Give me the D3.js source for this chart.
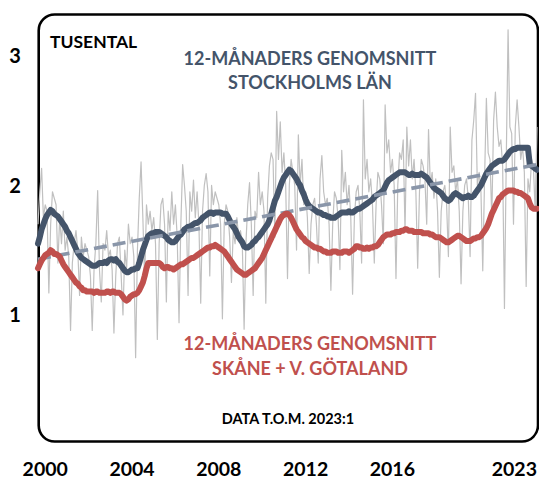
<!DOCTYPE html>
<html><head><meta charset="utf-8">
<script src="https://cdn.jsdelivr.net/npm/d3@7"></script>
<style>
html,body{margin:0;padding:0;background:#fff;}
svg{display:block;font-family:Lato,"Open Sans",sans-serif;font-weight:700;}
</style></head>
<body><svg id="c" width="539" height="482"></svg>
<script>
// ---- DATA (monthly, 2000:1 .. 2023:1) ----
const startYear = 2000;
const stockholmMonthly = [
1.70,1.95,2.13,1.75,1.85,1.80,1.17,1.70,1.95,1.90,1.85,1.40,
1.75,1.55,1.80,1.50,1.60,1.45,0.88,1.40,1.55,1.65,1.50,1.15,
1.60,1.45,1.55,1.50,1.45,1.30,0.88,1.35,1.55,1.96,1.35,1.10,
1.55,1.50,1.65,1.45,1.50,1.35,0.86,1.30,1.55,1.60,1.30,1.00,
1.50,1.35,1.70,1.55,1.60,1.45,0.67,1.50,1.90,2.18,1.75,1.25,
1.85,1.70,1.80,1.65,1.75,1.55,0.81,1.55,1.85,1.90,1.70,1.10,
1.80,1.65,1.95,1.70,1.85,1.60,0.94,1.70,2.16,2.00,1.80,1.15,
1.95,1.80,2.04,1.75,1.95,1.70,1.09,1.80,2.00,2.09,1.95,1.30,
2.00,1.85,1.95,1.90,1.85,1.70,0.97,1.70,1.85,1.80,1.60,1.25,
1.65,1.55,1.75,1.60,1.65,1.55,0.89,1.55,1.85,2.02,1.70,1.15,
1.80,1.75,2.10,1.85,1.95,1.80,1.09,1.90,2.15,2.25,2.20,1.60,
2.57,2.20,2.49,2.10,2.25,2.00,1.28,2.00,2.20,2.10,2.00,1.50,
2.39,2.00,2.20,1.85,1.95,1.75,1.32,1.70,1.85,1.90,1.70,1.40,
2.05,2.23,1.95,1.85,1.90,1.70,1.19,1.70,1.95,1.90,1.75,1.35,
2.27,1.95,2.10,1.85,2.00,1.75,1.16,1.75,1.95,2.00,1.80,1.40,
2.66,2.05,2.20,1.95,2.05,1.85,1.40,1.85,2.10,2.05,1.85,1.55,
2.62,2.25,2.35,2.10,2.20,2.00,1.28,2.00,2.25,2.20,2.35,1.65,
2.45,2.15,2.35,2.05,2.20,1.95,1.36,1.95,2.20,2.15,2.05,1.70,
2.43,2.00,2.10,1.90,2.05,1.80,1.29,1.80,1.95,2.00,1.85,1.45,
2.45,2.10,2.15,1.95,2.05,1.80,1.24,1.80,2.00,2.05,1.90,1.45,
2.35,2.50,2.71,2.00,2.10,1.95,1.34,2.05,2.67,2.25,2.20,1.75,
2.50,2.72,2.45,2.30,2.35,2.15,1.05,2.20,3.20,2.45,2.40,1.70,
2.45,2.66,2.45,2.20,2.30,2.10,1.22,2.05,1.95,2.20,2.15,1.80,
2.45];
const stockholmAvg12 = [
1.55,1.60,1.66,1.70,1.74,1.77,1.79,1.81,1.80,1.78,1.77,1.76,
1.74,1.72,1.70,1.68,1.65,1.63,1.60,1.57,1.54,1.51,1.48,1.46,
1.44,1.43,1.42,1.41,1.40,1.39,1.38,1.38,1.38,1.39,1.40,1.40,
1.40,1.41,1.40,1.42,1.43,1.43,1.42,1.43,1.41,1.40,1.38,1.36,
1.34,1.33,1.33,1.34,1.35,1.35,1.36,1.36,1.40,1.45,1.50,1.54,
1.58,1.61,1.62,1.63,1.63,1.64,1.64,1.64,1.63,1.62,1.61,1.60,
1.58,1.57,1.56,1.56,1.57,1.59,1.61,1.62,1.64,1.66,1.67,1.68,
1.68,1.69,1.70,1.71,1.71,1.72,1.73,1.75,1.76,1.77,1.78,1.79,
1.79,1.78,1.79,1.79,1.79,1.79,1.78,1.78,1.78,1.76,1.73,1.70,
1.68,1.66,1.63,1.60,1.58,1.56,1.53,1.52,1.52,1.53,1.54,1.56,
1.57,1.59,1.60,1.62,1.64,1.66,1.68,1.70,1.73,1.78,1.83,1.88,
1.91,1.95,1.99,2.03,2.06,2.08,2.10,2.12,2.11,2.09,2.07,2.05,
2.02,2.00,1.96,1.93,1.89,1.86,1.84,1.83,1.82,1.81,1.80,1.79,
1.79,1.78,1.77,1.77,1.76,1.76,1.75,1.75,1.75,1.76,1.77,1.78,
1.79,1.79,1.79,1.79,1.80,1.79,1.79,1.80,1.81,1.82,1.82,1.83,
1.84,1.85,1.86,1.87,1.88,1.89,1.91,1.92,1.93,1.94,1.95,1.96,
1.99,2.02,2.04,2.05,2.06,2.07,2.08,2.09,2.10,2.10,2.10,2.10,
2.09,2.08,2.08,2.09,2.08,2.08,2.08,2.08,2.09,2.08,2.07,2.06,
2.04,2.02,2.00,1.98,1.97,1.96,1.95,1.94,1.92,1.90,1.89,1.88,
1.89,1.91,1.93,1.94,1.93,1.92,1.91,1.90,1.91,1.91,1.92,1.91,
1.91,1.92,1.94,1.96,1.98,2.00,2.03,2.06,2.09,2.11,2.13,2.15,
2.16,2.17,2.18,2.19,2.19,2.19,2.20,2.22,2.24,2.26,2.27,2.28,
2.28,2.29,2.29,2.29,2.29,2.29,2.29,2.29,2.16,2.15,2.14,2.13,
2.12];
const skaneVgAvg12 = [
1.36,1.39,1.42,1.44,1.46,1.47,1.48,1.50,1.49,1.47,1.47,1.46,
1.45,1.42,1.39,1.37,1.35,1.33,1.31,1.29,1.27,1.25,1.24,1.22,
1.21,1.19,1.19,1.18,1.18,1.18,1.18,1.17,1.18,1.18,1.17,1.17,
1.17,1.17,1.18,1.18,1.17,1.18,1.18,1.17,1.17,1.17,1.16,1.14,
1.12,1.11,1.12,1.14,1.15,1.16,1.16,1.17,1.19,1.22,1.25,1.30,
1.36,1.40,1.40,1.40,1.40,1.40,1.40,1.40,1.39,1.37,1.36,1.37,
1.37,1.36,1.36,1.35,1.36,1.37,1.38,1.39,1.39,1.40,1.41,1.42,
1.43,1.44,1.44,1.45,1.46,1.47,1.48,1.49,1.50,1.51,1.52,1.52,
1.53,1.53,1.54,1.53,1.52,1.51,1.50,1.49,1.47,1.45,1.43,1.41,
1.39,1.37,1.35,1.34,1.33,1.32,1.31,1.31,1.32,1.33,1.34,1.35,
1.36,1.38,1.40,1.42,1.44,1.47,1.50,1.53,1.56,1.59,1.62,1.65,
1.68,1.71,1.74,1.76,1.77,1.78,1.78,1.77,1.75,1.72,1.69,1.66,
1.64,1.62,1.60,1.59,1.57,1.56,1.55,1.54,1.53,1.52,1.52,1.51,
1.51,1.50,1.49,1.49,1.48,1.48,1.48,1.49,1.49,1.49,1.48,1.48,
1.48,1.49,1.49,1.49,1.48,1.49,1.50,1.51,1.53,1.53,1.52,1.52,
1.51,1.51,1.52,1.51,1.52,1.52,1.53,1.53,1.54,1.56,1.58,1.60,
1.61,1.62,1.62,1.62,1.63,1.63,1.64,1.64,1.64,1.65,1.65,1.66,
1.66,1.65,1.65,1.65,1.64,1.64,1.64,1.64,1.64,1.63,1.63,1.63,
1.63,1.62,1.62,1.61,1.60,1.60,1.60,1.59,1.58,1.57,1.56,1.56,
1.57,1.58,1.59,1.60,1.61,1.61,1.60,1.59,1.58,1.57,1.57,1.57,
1.58,1.59,1.59,1.60,1.60,1.61,1.63,1.65,1.67,1.70,1.74,1.78,
1.81,1.84,1.87,1.90,1.91,1.93,1.94,1.95,1.96,1.96,1.96,1.96,
1.95,1.95,1.94,1.94,1.93,1.92,1.91,1.90,1.86,1.83,1.82,1.82,
1.82];
const trendValues = [1.43, 2.16];           // linear trend, first and last month
const yTickValues = [1, 2, 3];
const xTickYears = [2000, 2004, 2008, 2012, 2016];
const lastLabel = "2023";
const titleStockholm = ["12-MÅNADERS GENOMSNITT", "STOCKHOLMS LÄN"];
const titleSkane = ["12-MÅNADERS GENOMSNITT", "SKÅNE + V. GÖTALAND"];
const unitLabel = "TUSENTAL";
const noteLabel = "DATA T.O.M. 2023:1";

// ---- CHART ----
const svg = d3.select("#c");
const n = stockholmMonthly.length;
const frame = {x: 38.7, y: 14.5, w: 499.3, h: 427};
const x = d3.scaleLinear().domain([0, n - 1]).range([38, 537]);
const y = d3.scaleLinear().domain([0, 3]).range([444.5, 55.7]);

svg.append("rect").attr("x", frame.x).attr("y", frame.y)
  .attr("width", frame.w).attr("height", frame.h)
  .attr("rx", 16).attr("ry", 16)
  .attr("fill", "none").attr("stroke", "#000").attr("stroke-width", 2.6);

const line = arr => d3.line().x((d, i) => x(i)).y(d => y(d))(arr);

svg.append("path").attr("d", line(stockholmMonthly))
  .attr("fill", "none").attr("stroke", "#c0c0c0").attr("stroke-width", 1.2)
  .attr("stroke-linejoin", "round");

svg.append("path").attr("d", line(stockholmAvg12))
  .attr("fill", "none").attr("stroke", "#44546A").attr("stroke-width", 6)
  .attr("stroke-linejoin", "round").attr("stroke-linecap", "round");

svg.append("path")
  .attr("d", d3.line().x(d => x(d[0])).y(d => y(d[1]))([[0, trendValues[0]], [n - 1, trendValues[1]]]))
  .attr("fill", "none").attr("stroke", "#8A96A9").attr("stroke-width", 3.6)
  .attr("stroke-dasharray", "13,6");

svg.append("path").attr("d", line(skaneVgAvg12))
  .attr("fill", "none").attr("stroke", "#C0504D").attr("stroke-width", 6)
  .attr("stroke-linejoin", "round").attr("stroke-linecap", "round");

// y labels
svg.selectAll(".yl").data(yTickValues).enter().append("text")
  .attr("x", 15).attr("y", d => y(d)).attr("dy", "0.36em")
  .attr("text-anchor", "middle").attr("font-size", 20).attr("fill", "#000")
  .text(d => d);

// x labels
svg.selectAll(".xl").data(xTickYears).enter().append("text")
  .attr("x", d => x((d - startYear) * 12 + 4)).attr("y", 476)
  .attr("text-anchor", "middle").attr("font-size", 19.5).attr("fill", "#000")
  .text(d => d);
svg.append("text").attr("x", x(n - 1)).attr("y", 476)
  .attr("text-anchor", "end").attr("font-size", 19.5).attr("fill", "#000")
  .text(lastLabel);

// annotations
svg.append("text").attr("x", 50).attr("y", 48).attr("font-size", 17.5).attr("fill", "#000").text(unitLabel);

svg.selectAll(".ts").data(titleStockholm).enter().append("text")
  .attr("x", 310).attr("y", (d, i) => 65 + i * 24).attr("text-anchor", "middle")
  .attr("font-size", 18).attr("fill", "#44546A").text(d => d);

svg.selectAll(".tk").data(titleSkane).enter().append("text")
  .attr("x", 310).attr("y", (d, i) => 350 + i * 25).attr("text-anchor", "middle")
  .attr("font-size", 18).attr("fill", "#C0504D").text(d => d);

svg.append("text").attr("x", 288).attr("y", 424).attr("text-anchor", "middle")
  .attr("font-size", 14.5).attr("fill", "#000").text(noteLabel);
</script></body></html>
